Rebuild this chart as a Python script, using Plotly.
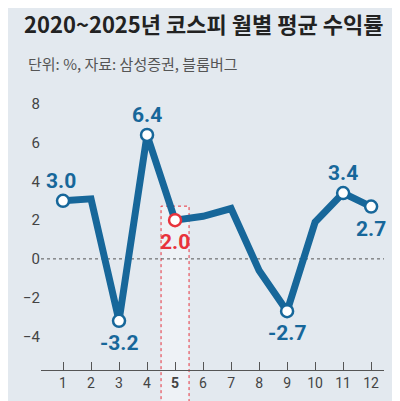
import plotly.graph_objects as go

months = list(range(1, 13))
values = [3.0, 3.1, -3.2, 6.4, 2.0, 2.2, 2.6, -0.6, -2.7, 1.9, 3.4, 2.7]
tick_labels = [str(m) for m in months]
labeled = {1: "3.0", 3: "-3.2", 4: "6.4", 5: "2.0", 9: "-2.7", 11: "3.4", 12: "2.7"}
label_pos = {1: "above", 3: "below", 4: "above", 5: "below", 9: "below", 11: "above", 12: "below"}

BLUE = "#17679a"
RED = "#e8323c"
BG = "#e3e9ef"

fig = go.Figure()
fig.add_shape(type="rect", xref="x", yref="paper", x0=4.5, x1=5.5, y0=-0.12, y1=0.577,
              fillcolor="#eef2f6", line=dict(color=RED, width=1, dash="dot"), layer="below")
fig.add_shape(type="line", xref="paper", yref="y", x0=0, x1=1, y0=0, y1=0,
              line=dict(color="#555", width=1, dash="dot"), layer="below")
fig.add_trace(go.Scatter(x=months, y=values, mode="lines",
                         line=dict(color=BLUE, width=7), hoverinfo="skip"))
mx = list(labeled.keys())
my = [values[m - 1] for m in mx]
fig.add_trace(go.Scatter(x=mx, y=my, mode="markers",
                         marker=dict(size=12, color="white",
                                     line=dict(color=[RED if m == 5 else BLUE for m in mx], width=2.5))))
for m, t in labeled.items():
    v = values[m - 1]
    up = label_pos[m] == "above"
    fig.add_annotation(x=m, y=v, text=f"<b>{t}</b>", showarrow=False,
                       yshift=20 if up else -22, xshift=-2 if m == 1 else 0,
                       font=dict(size=21, color=RED if m == 5 else BLUE, family="Roboto"))

fig.update_layout(
    width=400, height=401, paper_bgcolor=BG, plot_bgcolor=BG,
    margin=dict(l=33, r=24, t=78, b=39), showlegend=False,
    title=dict(text="<b>2020~2025년 코스피 월별 평균 수익률</b>", x=0.04, y=0.975, xanchor="left",
               font=dict(size=22, color="#222", family="Noto Sans CJK KR")),
    annotations=list(fig.layout.annotations) + [
        dict(text="단위: %, 자료: 삼성증권, 블룸버그", xref="paper", yref="paper", x=-0.045, y=1.035,
             xanchor="left", yanchor="bottom", showarrow=False,
             font=dict(size=15, color="#555", family="Noto Sans CJK KR"))],
)
fig.update_xaxes(range=[0.214, 12.46], tickvals=months,
                 ticktext=[f"<b>{t}</b>" if t == "5" else t for t in tick_labels],
                 ticks="inside", ticklen=8, tickcolor="#555", showline=True, linecolor="#555",
                 showgrid=False, zeroline=False, tickfont=dict(size=14, color="#444", family="Roboto"))
fig.update_yaxes(range=[-5.74, 8.93], tickvals=[-4, -2, 0, 2, 4, 6, 8], showgrid=False,
                 zeroline=False, tickfont=dict(size=15, color="#444", family="Roboto"), ticks="")
fig.write_html("out.html")
